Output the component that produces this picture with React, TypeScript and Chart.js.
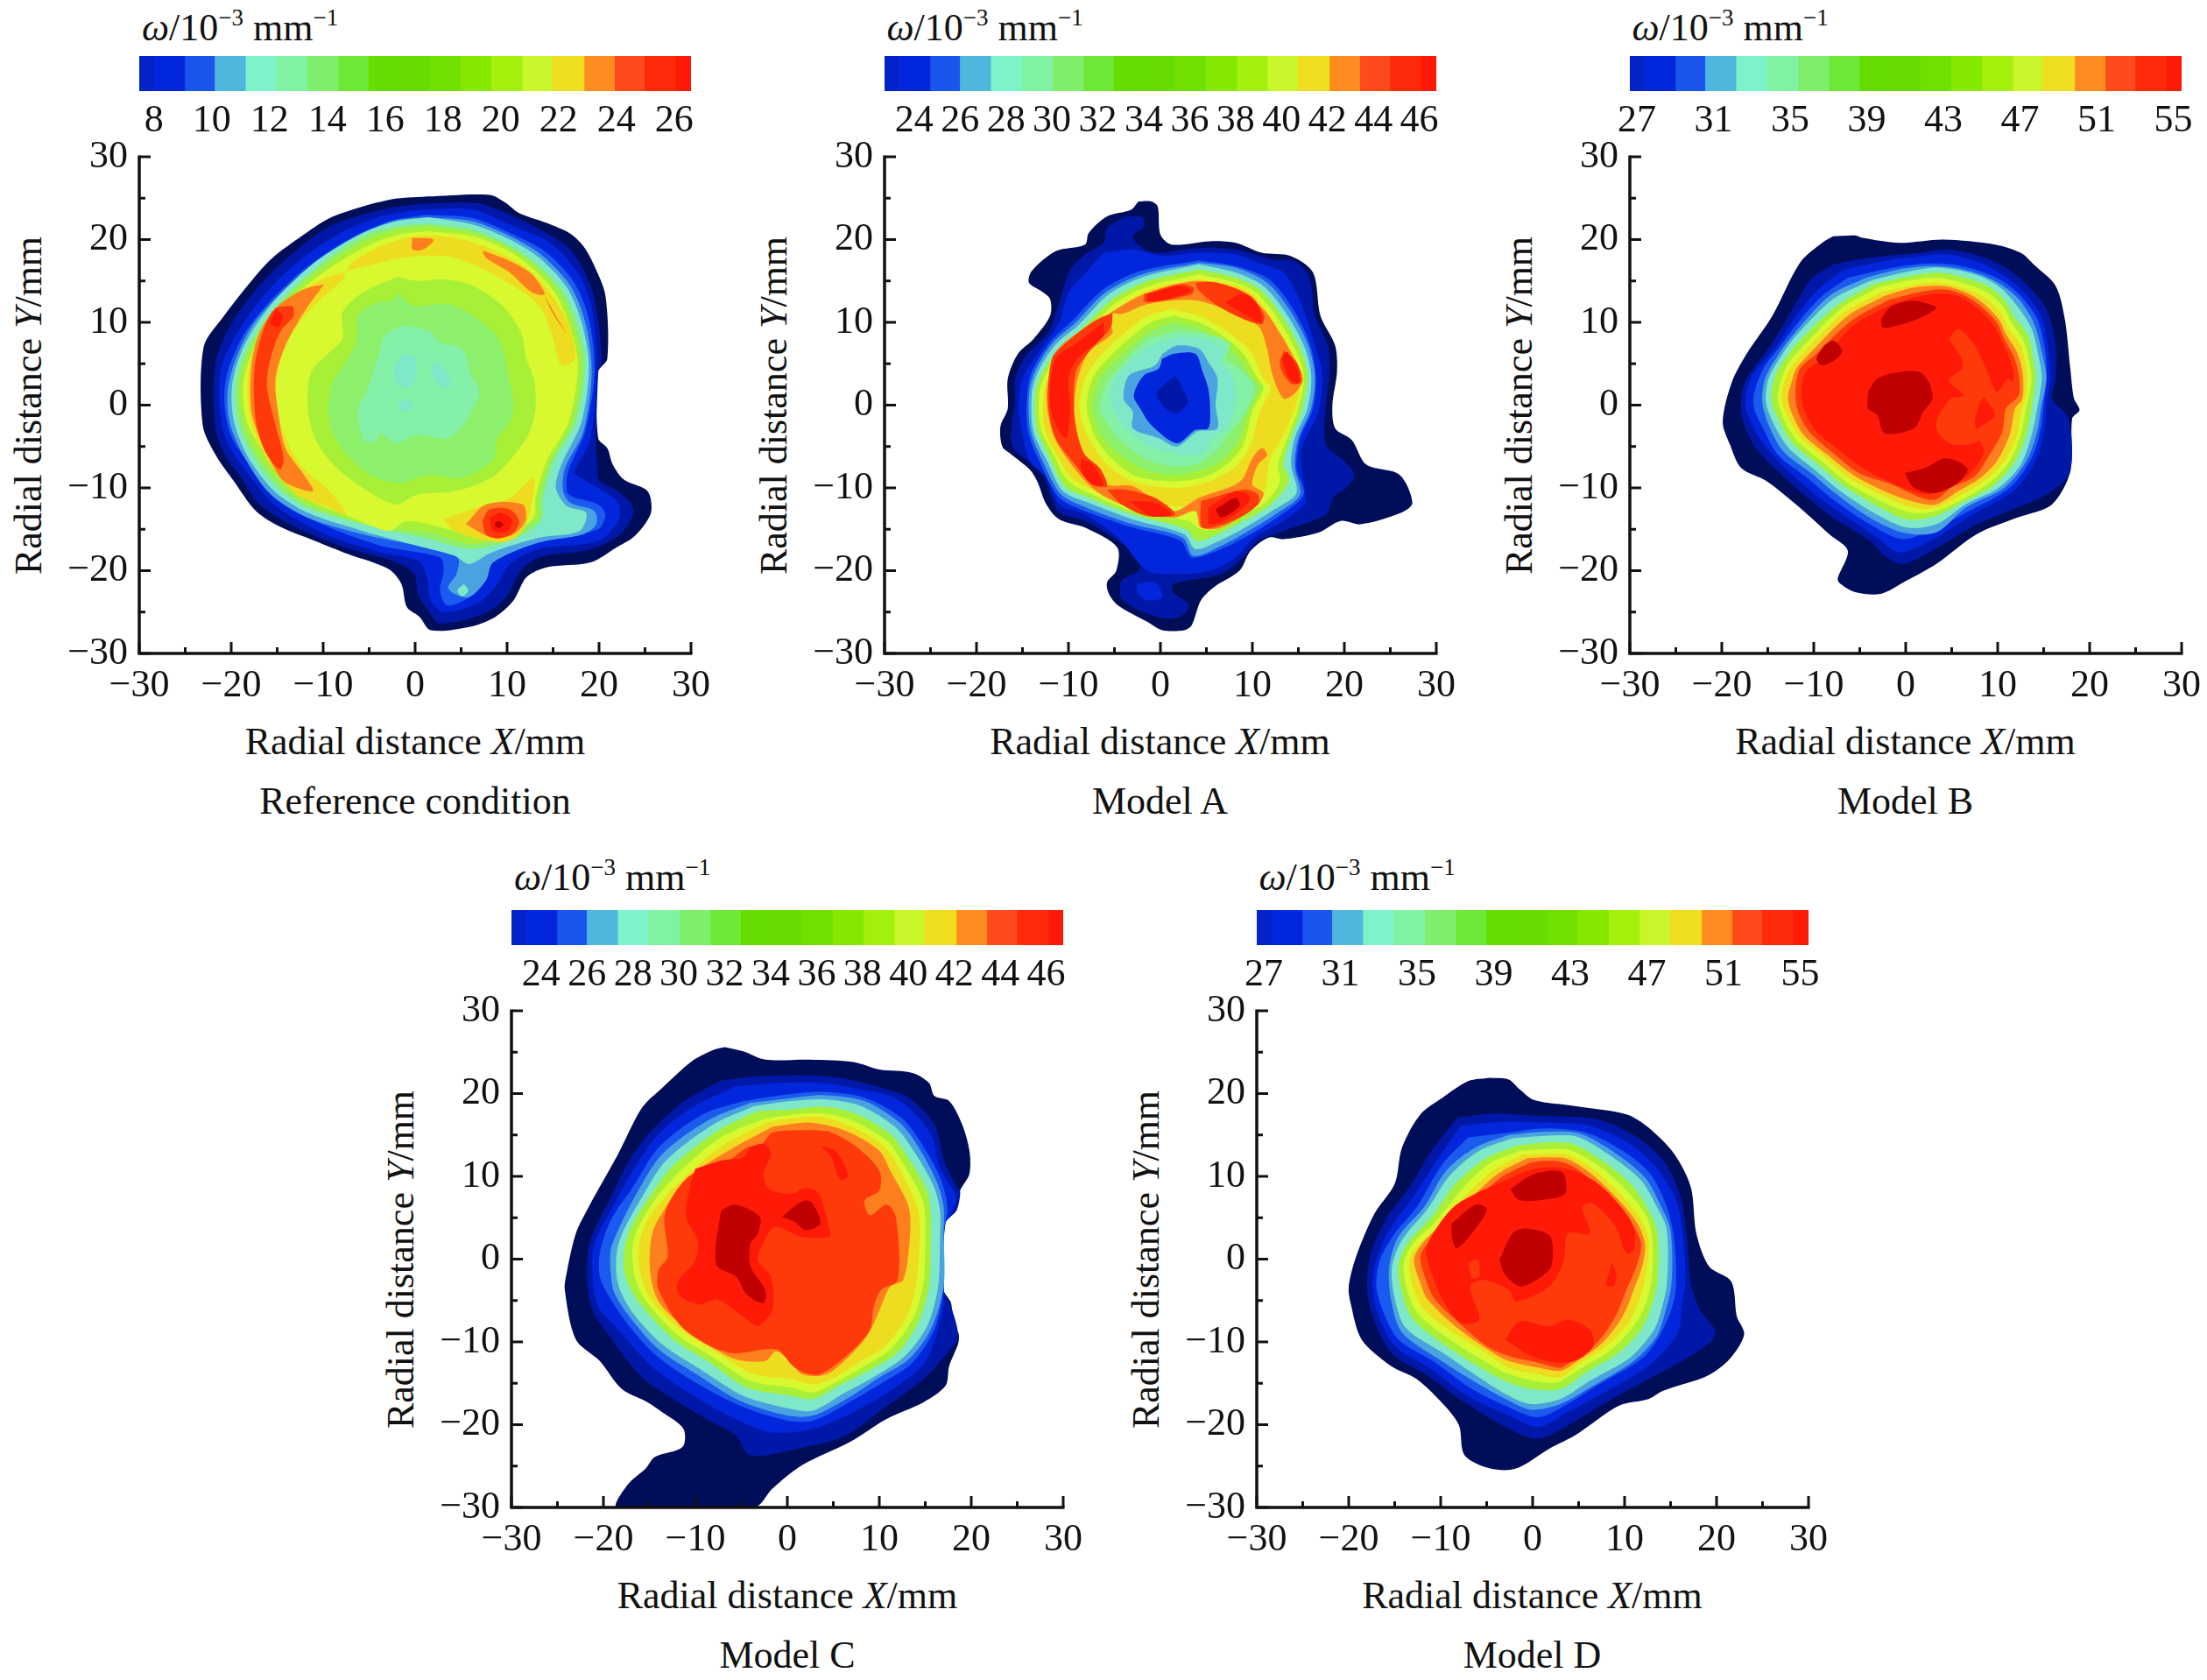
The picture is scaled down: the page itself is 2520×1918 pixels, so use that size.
import React, { useEffect, useRef } from 'react';
import { Chart, registerables } from 'chart.js';

Chart.register(...registerables);

const SERIF = '"Liberation Serif", "Times New Roman", serif';

// contour fill colours, one per level index, low to high
const levelColors = [
  '#000d58', '#0018a8', '#0226dc', '#1a5aee', '#4aa3e0', '#7ee8c8', '#85f0a8', '#8cf06c',
  '#a8f038', '#d8f830', '#eedc20', '#fe7f1e', '#ff3a0a', '#ff1a08', '#c00000',
];

const barColors = [
  '#0322c8', '#0226dc', '#1a56ee', '#4fb6de', '#7ef2cb', '#80f3a3', '#7fee6a', '#6ee836', '#66dd00', '#66dc00',
  '#6fe000', '#86e800', '#a3f00c', '#c8f62a', '#efde20', '#ff8c20', '#ff4a1c', '#ff2a0a', '#ff1a08',
];

const barEdgesA = [7.49, 8.0, 9.06, 10.09, 11.16, 12.21, 13.3, 14.37, 15.41, 16.47, 17.52, 18.59, 19.66, 20.74, 21.78, 22.88, 23.93, 24.97, 26.04, 26.58];
const barEdgesB = [22.71, 23.34, 24.69, 25.98, 27.33, 28.66, 30.03, 31.37, 32.68, 34.01, 35.34, 36.69, 38.04, 39.38, 40.69, 42.08, 43.41, 44.72, 46.07, 46.74];
const barEdgesC = [26.63, 27.39, 29.01, 30.55, 32.17, 33.76, 35.4, 37.02, 38.59, 40.18, 41.77, 43.39, 45.0, 46.62, 48.19, 49.85, 51.45, 53.01, 54.63, 55.44];

const barTicksA = [8, 10, 12, 14, 16, 18, 20, 22, 24, 26];
const barTicksB = [24, 26, 28, 30, 32, 34, 36, 38, 40, 42, 44, 46];
const barTicksC = [27, 31, 35, 39, 43, 47, 51, 55];

type Contour = [number, number[]];

const referenceContours: Contour[] = [
  [0, [1.3,25.2, 8.1,25.4, 9.9,24.4, 11.3,23.2, 14.3,22, 16.9,20.7, 18.3,19.2, 19.5,16.8, 20.7,13.2, 20.9,5.6, 19.9,4, 19.9,-4, 20.9,-5.2, 21.5,-7.2, 22.7,-9, 25.1,-10.2, 25.6,-11.2, 25.6,-13.2, 23.9,-15.8, 21.9,-17.2, 19.1,-19, 14.3,-19.6, 12.1,-20.8, 10.7,-23.6, 8.7,-25.6, 5.9,-26.8, 1.7,-27.2, .5,-25.6, -.9,-24.4, -1.5,-21.6, -2.9,-19.8, -7.3,-18, -10.9,-16.4, -14.5,-14.8, -17.3,-12.8, -19.7,-9.2, -21.7,-6, -23.1,-2.4, -23,7, -20.9,10.6, -18.1,14.6, -15.7,17.6, -12.1,20.6, -8.9,22.8, -2.9,24.8]],
  [1, [.3,24.3, 6.7,24.4, 10.3,23, 14.3,20.8, 16.9,18.8, 19.1,14.4, 19.9,10.4, 20.3,5.2, 19.9,4, 19.9,-8.8, 21.5,-10, 23.3,-11.6, 23.7,-13.2, 22.3,-15.6, 19.1,-17.4, 13.5,-18.4, 11.5,-20, 9.9,-23.2, 7.5,-25.2, 2.7,-26.4, 1.5,-25, .3,-22.8, -.1,-20.4, -2.5,-18.8, -7.7,-17.2, -12.9,-14.8, -16.9,-12, -18.9,-8.8, -20.9,-5.6, -21.8,-2, -21.7,5.2, -20.1,9.6, -17.3,14, -13.7,18, -9.3,21.6, -3.7,23.6]],
  [2, [.3,23.6, 6.3,23.6, 10.7,21.6, 14.7,19.6, 17.9,15.6, 19.3,11.2, 19.7,4, 19.1,-4, 17.7,-7.2, 17.3,-8.2, 19.9,-10, 22.1,-11.8, 22.1,-14, 19.9,-16.4, 13.5,-17.4, 10.3,-19.2, 8.7,-22, 6.7,-24, 3.1,-25, 1.7,-23.6, 1.3,-20.8, .3,-18.8, -3.7,-17.8, -9.3,-15.8, -14.9,-12.4, -18.1,-8.4, -20.3,-4.8, -21.2,-1.2, -21.1,4.4, -19.3,8.8, -16.5,13.2, -12.9,17.2, -8.1,20.8, -3.7,22.8]],
  [3, [1.1,23, 6.3,22.6, 10.7,20.6, 14.3,18.4, 17.3,14.8, 18.9,10.4, 19.5,4, 18.5,-3.2, 16.9,-7.2, 16.5,-8.8, 16.7,-10.8, 19.9,-12, 20.7,-13.2, 19.9,-15, 13.5,-16.4, 8.7,-18.2, 7.5,-21.2, 5.9,-23.2, 3.5,-24.2, 2.7,-22.4, 3.1,-20, 2.7,-18.4, -3.7,-17, -9.3,-14.8, -14.5,-11.8, -17.7,-7.6, -19.9,-4, -20.7,-.4, -20.5,3.6, -18.7,8.4, -15.9,12.4, -12.1,16.4, -7.3,20, -2.9,22.2]],
  [4, [1.1,22.7, 6.3,22.2, 10.7,20.2, 13.9,18, 16.9,14.4, 18.5,10, 19.2,4, 18.3,-3.2, 16.3,-7.6, 16.1,-10.4, 16.9,-11.8, 19.5,-12.8, 19.7,-14.4, 18.3,-15.6, 13.5,-16.6, 8.5,-19, 7.7,-21.2, 5.9,-23.2, 4.3,-22.8, 3.6,-22, 4.5,-20.4, 4.6,-18.4, .3,-17, -5.7,-15.6, -11.7,-13.6, -15.7,-10.8, -18.3,-6.8, -20.1,-2.4, -20.4,1.6, -19.5,5.6, -17.7,9.6, -14.9,13.2, -10.9,17.2, -6.1,20.4, -2.5,22.2]],
  [5, [1.5,22.7, 6.3,21.8, 10.3,20, 13.5,17.8, 16.5,14.2, 18.1,10, 18.9,4.8, 18.1,-2, 15.9,-7.2, 15.3,-10, 16.5,-12.2, 18.6,-13, 17.9,-15.2, 13.5,-16, 8.3,-17.8, 5.9,-19.2, 4.3,-18.2, .3,-17, -5.7,-15.2, -11.7,-13, -15.3,-10.4, -18.1,-6.4, -19.7,-2, -19.9,2.4, -18.9,6.4, -17.1,10, -14.5,13.6, -10.5,17.6, -5.7,20.8, -2.1,22.2]],
  [5, [5.3,-21.6, 5.8,-22.4, 5.1,-23.1, 4.6,-22.4]],
  [7, [1.5,21.9, 6.3,21.2, 9.9,19.5, 13.1,17.2, 16.1,13.8, 17.7,9.6, 18.5,4.8, 17.5,-2, 15.1,-6.8, 13.9,-11.2, 13.7,-14, 10.7,-16.2, 6.3,-17.4, 1.5,-16.2, -5.7,-14.4, -11.7,-12.4, -14.9,-10, -17.7,-6, -19.2,-2, -19.5,2.4, -18.5,6.4, -16.5,10, -13.9,13.4, -10.1,17.2, -5.7,20.4, -2.1,21.6]],
  [8, [1.5,21.6, 6.3,20.8, 9.9,19.2, 12.9,17, 15.7,13.6, 17.3,9.4, 18.1,4.8, 17.1,-2, 14.7,-6.8, 13.5,-11.2, 13.3,-13.6, 10.3,-15.6, 6.3,-16.8, 1.5,-15.4, -3.7,-14.8, -11.7,-12, -14.5,-9.6, -17.3,-5.6, -18.7,-2, -19.1,2.4, -18.1,6.4, -16.1,10, -13.5,13.4, -9.9,16.8, -5.3,20, -1.9,21.2]],
  [9, [1.5,21, 6.3,20.4, 9.9,18.8, 12.7,16.6, 15.3,13.4, 16.9,9.2, 17.7,4.8, 16.7,-2, 14.3,-6.8, 13.1,-11.2, 12.9,-13.6, 10.3,-15.4, 7.7,-16.2, 4.3,-15.2, -.9,-14, -2.9,-15.2, -7.7,-13.2, -11.7,-11.4, -14.1,-9.2, -16.7,-5.2, -18.3,-2, -18.7,2.4, -17.7,6.4, -15.7,10, -13.1,13.2, -9.5,16.4, -4.9,19.4, -1.7,20.6]],
  [10, [-7.5,16.2, -6.9,17.2, -3.7,19.2, -.1,20.4, 4.3,20.2, 8.3,18.8, 12.3,16.4, 14.9,13.2, 16.7,9.6, 17.4,5.6, 15.9,4.8, 14.9,8.4, 13.5,12, 10.7,14.4, 7.1,16.6, 3.5,18, -1.3,17.8, -4.5,17]],
  [10, [-7.7,16, -10.1,15.2, -13.7,12.4, -16.3,8.8, -17.9,5.2, -18.2,.8, -17.5,-3.2, -15.7,-7.2, -12.9,-10.8, -9.7,-12.2, -7.5,-13.2, -9.3,-10.4, -12.5,-7.2, -14.5,-2.8, -15.1,2, -14.1,7.2, -11.7,11.2, -7.7,15.4]],
  [10, [3.1,-13.8, 6.7,-12.4, 10.3,-11.2, 12.9,-8.8, 12.7,-11.6, 11.9,-14.8, 10.3,-16.4, 7.9,-16.4, 4.3,-15.2]],
  [11, [-9.9,14.6, -12.1,14, -14.9,12, -16.9,8.8, -17.8,4.8, -17.8,-.8, -16.7,-4.4, -14.9,-8.4, -13.7,-9.6, -11.1,-10.4, -12.1,-8.4, -14.1,-5.2, -14.9,-.8, -15.2,3.2, -14.1,7.2, -12.1,11.2]],
  [11, [-.3,20.2, 2,20, .9,18.8, -.3,18.8]],
  [11, [7.3,18.7, 10.3,17.4, 12.7,15.8, 14.1,13.4, 12.7,13.6, 10.3,16, 7.7,17.8]],
  [11, [14.1,13.2, 14.9,11.2, 16.5,8.6, 15.3,10.8]],
  [11, [5.5,-14.4, 7.7,-12, 11.7,-12, 12,-14, 10.7,-15.6, 8.3,-16]],
  [12, [-13.3,12, -15.3,11.6, -16.7,8.4, -17.5,4, -17.3,-2, -16.3,-5.6, -14.7,-7.8, -14.3,-6.4, -15.1,-2.8, -16.1,2, -15.9,4.8, -14.7,8.8, -13.2,10.8]],
  [12, [7.3,-14, 8.1,-12.6, 10.3,-12.6, 11.3,-14, 10.7,-15.4, 9.1,-16.1, 7.7,-15.6]],
  [13, [-15.1,11.6, -14.4,10.8, -14.9,9.4, -15.7,10]],
  [13, [8.1,-13.6, 9.3,-13, 10.5,-13.8, 10.1,-15.2, 8.5,-15.2]],
  [14, [8.6,-14.4, 9.1,-14, 9.6,-14.4, 9.1,-14.9]],
  [8, [-1.9,15.5, .3,15, 3.1,15.2, 6.3,14.4, 9.5,12, 11.5,8.8, 12.1,5.6, 12.9,3.2, 13.1,-.4, 12.3,-3.6, 9.9,-7.2, 8.3,-8.8, 4.3,-10.4, .3,-10.8, -2.1,-12, -5.7,-10, -8.9,-7.2, -10.9,-4, -11.7,0, -11.3,4, -9.3,6.4, -7.9,8, -7.9,11.2, -5.7,13.6]],
  [7, [-1.9,13.6, -.1,12, 3.5,12.2, 6.3,10.8, 9.1,8, 10.1,4, 10.7,0, 10.3,-2, 8.9,-4, 8.5,-6.6, 5.1,-8.8, 1.5,-8.4, -1.7,-9.4, -4.9,-8.4, -7.7,-5.6, -9.3,-2, -9.1,2.4, -7.3,5.6, -6.3,8, -6.3,10.8, -4.1,12.4, -2.5,12.6]],
  [6, [-1.5,9.6, 1.5,9, 2.7,7.6, 5.1,6.8, 6.1,3.6, 7,1.6, 6.1,-.8, 5.5,-2, 3.5,-4, .3,-3.6, -2.1,-4.6, -3.7,-3.4, -4.5,-4.6, -5.7,-4, -6.2,-.4, -5.3,1.6, -3.9,6.4, -3.3,8.4]],
  [5, [-1.3,6.2, .1,5.6, -.3,2.4, -1.9,2.4, -2.3,4.6]],
  [5, [2.3,5.4, 3.5,4, 3.9,2.4, 2.7,2.2, 1.7,4.2]],
  [5, [-1.7,.8, -.5,.4, -.5,-.6, -1.7,-.6]],
];

const modelAContours: Contour[] = [
  [0, [-2.4,24.6, -1,24.6, -.3,24, 0,20.6, 1.2,19.4, 5.4,19.8, 8.2,19.6, 11,18.4, 14.2,18, 16.6,16, 17.4,10.8, 19,7.2, 19.2,4, 18.7,0, 19,-2.8, 20.8,-4.2, 22.4,-7.2, 26,-8.4, 27.4,-11.8, 26.2,-13, 21.8,-14.4, 19.6,-14, 17.2,-15.4, 13.4,-16.2, 11.8,-16, 9.8,-17.6, 8.6,-20, 5.8,-22, 4.4,-23.6, 3.4,-26.6, 2.6,-27.2, .2,-27.2, -1.4,-26.2, -4.6,-24.2, -5.6,-22.8, -5.8,-21.4, -4.8,-20, -4.7,-17.2, -8.2,-14.8, -11,-13.8, -12.4,-12, -13.4,-9.2, -14.2,-7.8, -16.4,-5.8, -17.2,-5, -17.4,-2.6, -16.6,-.4, -16.6,3.2, -15.5,6.2, -13.8,8, -12,10.8, -12,12.8, -13,13.8, -14.3,14.8, -14,16.2, -11.4,18.6, -8.2,19.4, -7.8,20.8, -5.8,22.8, -3.2,23.6]],
  [1, [-3.8,22.8, -2,22.7, -1.8,21.6, -3,20.4, -2.2,19.2, -.6,18.4, 4.2,19, 8.2,18.8, 12.2,17.6, 14.6,17.4, 16.2,15.4, 16.8,10.8, 18.2,7.2, 18.4,4, 18,0, 18,-4.8, 19.8,-6.6, 21.1,-8.4, 20.2,-10, 18.8,-11.2, 18,-13.2, 13.4,-15.2, 10.6,-16.4, 9,-18.4, 6.6,-20.4, 1.4,-21.6, 1.4,-22.6, 3,-24, 2.8,-25, 1.4,-25.8, -1.4,-25.2, -4.2,-23.4, -4.2,-21.2, -2.4,-20, -2.4,-18.4, -4.6,-16.4, -8.2,-14, -11,-13, -11.8,-11.2, -13,-8, -16,-5.2, -16.2,-2.4, -15.8,.4, -15.8,3.2, -14.6,6, -12.2,8.8, -11,12.4, -9.8,16.4, -8.2,18.2, -6.2,19.6, -5.8,21.4]],
  [2, [-6.2,18.4, -3,18.8, .2,18, 4.2,18.4, 8.2,18.2, 10.6,17.2, 13.4,16, 15.4,12, 16.8,7.2, 17.6,4, 17.2,-.8, 15.8,-4, 15.2,-6, 15.8,-10.8, 15.8,-11.8, 13.4,-14, 10.2,-16, 8.2,-18.4, 5.4,-20, 2.2,-20.4, -1.4,-20, -4.6,-16, -8.2,-13.2, -11,-12, -12.4,-8.8, -14.2,-6.8, -15,-3.6, -15.4,-.4, -15,3.2, -13,6.8, -11,10, -10,13.6, -7.8,16.4]],
  [2, [-2.6,-21.6, -.6,-21.4, .2,-23.2, -1.4,-23.6, -2.4,-22.8]],
  [3, [4.2,17.5, 8.2,16.8, 11.8,15.2, 14.2,12, 16.2,7.6, 16.9,3.6, 16.6,-.4, 15.2,-4, 14.8,-7.6, 15.6,-10.8, 13.2,-13.2, 9.8,-15.6, 6.6,-17.4, 3.4,-18.4, 2.2,-16.4, -3,-14.8, -8.2,-12.8, -11,-11.2, -13,-7.2, -14.4,-3.2, -14.5,1.2, -14,4, -12,7.6, -9.4,10.4, -6.2,14, -2.2,16.2]],
  [4, [4.2,17.2, 8.2,16.6, 11.6,14.8, 14,11.6, 16,7.4, 16.8,3.6, 16.4,-.4, 15,-4, 14.6,-7.4, 15.2,-10.8, 12.8,-13, 9.6,-15.2, 6.6,-17, 3.6,-18.2, 2.4,-16, -3,-14.4, -8,-12.4, -10.8,-10.8, -12.7,-7, -14.1,-3.2, -14.3,1.2, -13.7,3.9, -11.8,7.4, -9.2,10, -6,13.6, -2,15.8]],
  [5, [4.2,17, 8.2,16, 11.2,14.4, 13.6,11.2, 15.6,7.2, 16.4,3.6, 16,-.4, 14.6,-4, 14.2,-7.2, 14.8,-10.6, 12.4,-12.6, 9.2,-14.8, 6.4,-16.4, 3.8,-17.4, 2.6,-15.6, -3,-13.8, -7.8,-11.8, -10.6,-10.4, -12.3,-6.8, -13.8,-3.2, -14,1.2, -13.4,3.8, -11.5,7.2, -8.8,9.8, -5.6,13.4, -1.8,15.5]],
  [8, [4.2,16.4, 8.2,15.4, 10.8,14, 13.2,10.8, 15.2,6.8, 16,3.6, 15.4,-.4, 14.2,-4, 13.4,-7.2, 14,-9.2, 11.8,-12.2, 9,-14, 6.2,-15.6, 4,-16.4, 2.8,-15, -3,-13.2, -7.8,-11.2, -10.4,-9.8, -12,-6.4, -13.4,-3, -13.6,1.2, -13,3.6, -11.1,6.8, -8.4,9.4, -5.2,12.8, -1.4,15]],
  [9, [4.2,15.8, 8.2,14.8, 10.4,13.6, 12.8,10.4, 14.8,6.4, 15.6,3.4, 15,-.4, 13.8,-4, 12.8,-7.2, 13,-9.2, 11.4,-11.8, 8.6,-13.4, 6.2,-15, 4.4,-15, 3,-14, -3,-12.8, -7.4,-10.8, -10,-9.2, -11.6,-6, -13,-2.8, -13.2,1.2, -12.6,3.4, -10.8,6.4, -8,9, -4.8,12.4, -1.2,14.4]],
  [10, [4.2,15.2, 8.2,14.4, 10.2,13.2, 12.4,10, 14.4,6, 15.2,3.2, 14.6,-.4, 13.2,-4, 11.8,-6.8, 11.6,-8.8, 11,-11.2, 8.2,-12.8, 6,-14.6, 4.4,-14.8, 3.8,-12.8, 1.4,-12.2, -3,-12.4, -7,-10.4, -9.6,-8.8, -11.3,-6, -12.6,-2.8, -12.7,1.2, -12.2,3.2, -10.4,6, -7.6,8.6, -4.4,11.9, -1,14]],
  [11, [-5.4,11.2, -1.8,13.4, 3.8,15, 8.2,14, 11.2,11.6, 12.6,9.4, 14.2,6.4, 15.5,3.2, 14.6,1.4, 13.4,.8, 12.2,3.6, 11.6,6.8, 10.6,9.6, 7,11.6, 3.4,12.7, -1.4,12.2, -4.2,11]],
  [11, [-6.2,10.8, -8.2,9.4, -11.4,6.4, -12.3,2.4, -12.3,-.4, -11.5,-4, -9.4,-7.6, -7,-10.4, -3.8,-12.2, 1.4,-13.6, 3.8,-12.8, 4.4,-14.8, 6.6,-14.8, 10.6,-12, 11.2,-10.6, 10,-9.6, 10.6,-7.2, 11.6,-6, 11,-5.2, 10,-6.4, 9,-8.8, 7.8,-9.8, 4.2,-11.2, 1.4,-12.8, -3,-9.8, -5.8,-9.6, -7.8,-7.2, -9.4,-4, -9.4,-.4, -9,3.2, -7.8,6.4, -5.2,8.8]],
  [12, [-5.2,11.2, -7.4,10, -10.6,7.2, -11.8,5.6, -12.2,0, -11.4,-4, -9,-7.6, -7.4,-9.6, -5.8,-9.8, -6.6,-7.6, -8.2,-6, -9,-3.6, -9.4,-.4, -9.2,4, -7.8,6.4, -5.4,9.4]],
  [12, [-5.8,-10.2, -3.8,-10.2, -.6,-11.2, 1.6,-13.2, -1.4,-13.4, -4.2,-12]],
  [12, [-1.8,13.4, 2.2,14.6, 3.6,14.2, 3.4,13.4, -1.6,12.4]],
  [12, [3.8,14.8, 6.2,14.8, 9.8,13.2, 11.3,10.8, 11,9.8, 9,10.4, 6.2,12, 4.2,13.8]],
  [12, [13.4,6.6, 14.8,5.2, 15.3,2.8, 14.2,2.6, 13,4.8]],
  [12, [4.4,-11.6, 9,-10.2, 10.6,-10.8, 10.6,-12, 8.2,-13.8, 4.6,-14.8]],
  [13, [-6.2,10, -9,7.6, -11.4,5.6, -12,0, -11,-3.2, -10.2,-4, -9.8,0, -10,3.2, -9,5.6, -6.2,8.4]],
  [13, [-8.6,-6.4, -7.4,-7.2, -6.2,-9.6, -7.4,-9.6, -8.6,-8]],
  [13, [7,12.4, 9,13.4, 10.6,12, 11,10, 9.4,10.8]],
  [13, [-1.4,13.4, 2.2,14.4, 3.4,13.8, .2,12.7, -1.4,12.6]],
  [13, [13.2,5.6, 13.8,6.4, 15,4, 15,2.6, 14,3.2]],
  [13, [-3.4,-11.6, -.6,-11.8, 1.2,-13.2, -1,-13.4]],
  [13, [5.2,-12.4, 8.2,-10.4, 9.8,-11.2, 8.2,-13.2, 5.4,-14.4]],
  [14, [6,-12.6, 8.2,-11.2, 8.6,-12.2, 6.6,-13.6]],
  [9, [1.2,11.6, 4.2,10.8, 7.4,8.8, 9.8,6.4, 11.2,3.2, 12,2, 10.8,-.8, 9.8,-4.8, 8.4,-7.2, 5.4,-9.2, 1.4,-10, -3,-9.2, -5.8,-7.2, -7.8,-4, -8.8,-.4, -8.2,3.2, -6.2,6.4, -3.8,8.8, -1.4,10.8]],
  [8, [1.4,10.8, 4.2,10, 7,8.2, 9,6.2, 10.6,3.2, 11.2,2, 10,-.8, 9,-4.8, 7.6,-6.8, 5,-8.6, 1.4,-9.2, -2.6,-8.6, -5.2,-6.6, -7,-4, -8,-.4, -7.4,3.2, -5.4,6, -3,8.4, -1,10]],
  [7, [1.4,10, 4.2,9.2, 6.6,7.6, 8.6,5.6, 10,3.2, 10.8,2.2, 9.6,-.8, 8.4,-4.4, 7,-6.4, 4.6,-7.8, 1.4,-8.4, -1.8,-7.8, -4.6,-5.8, -6.4,-3.6, -7.4,-.4, -6.6,3.2, -5,5.2, -2.6,7.6, -.6,9.2]],
  [6, [1.8,9, 5,8.6, 7.6,7.4, 7.2,5.6, 9,4, 10.2,2, 9,-1.2, 7.4,-3.6, 6.2,-5.4, 4.2,-7, 1.4,-7.4, -1.4,-6.6, -3.8,-4.8, -5.4,-2.8, -6.6,-.4, -5.8,2.8, -4.2,4.8, -1.8,7.6]],
  [5, [1.8,8.2, 5,8, 7,6.8, 6.6,5.2, 7.8,3.6, 8.2,.8, 7.4,-2.4, 5.8,-4, 4.2,-6, 1.4,-5.8, -1,-5, -3,-3.6, -4.6,-1.6, -5.4,.4, -5.2,2.8, -3,5.6, -1,7.2]],
  [4, [.2,6.2, 1.8,7.2, 4.2,6.8, 5.2,5.2, 6.2,3.2, 6,0, 6.2,-2.8, 4,-3.2, 1.8,-5, -.2,-4, -3,-2.8, -3,-.8, -4,.8, -3.4,3.6, -.6,4.8]],
  [2, [.2,5.6, 1.4,6.2, 3.8,6.2, 4.6,4, 5.2,2, 5.4,-.4, 5.2,-2.8, 3.8,-3, 1.8,-4.6, -1,-2.4, -2.2,-.4, -2.9,1.2, -1.8,3.6, -.2,4.4]],
  [1, [1.6,3.6, 2.6,1.6, 3,.4, 1.8,-1, .6,-.4, -.4,1.4]],
];

const modelBContours: Contour[] = [
  [0, [-7.9,20.4, -5.5,20.5, -4.7,20.2, -.7,19.6, 4.1,20, 9.7,19.4, 12.5,18.4, 13.9,17, 16.3,14.4, 17.3,10.4, 17.9,4.4, 18.3,.8, 18.9,-.6, 18.1,-1.6, 17.9,-8, 15.9,-12, 12.1,-13.6, 7.7,-15.6, 3.3,-19.2, .1,-21.2, -2.7,-22.8, -5.5,-22.6, -7.1,-21.6, -7.4,-21, -6.3,-17.6, -8.3,-15.6, -11.5,-12.4, -15.1,-9.2, -17.9,-7.6, -19.1,-4.8, -19.9,-2, -18.9,2.8, -17.3,6.2, -14.5,10.8, -11.5,17.2, -9.1,19.6]],
  [1, [-7.9,17, -3.9,17.8, 1.7,18.4, 4.5,18.8, 8.1,18, 10.9,16.6, 13.3,14.4, 15.3,11.6, 16.3,7.2, 16.3,3.2, 15.9,.8, 17.7,-1.6, 17.9,-8, 15.9,-10.4, 12.1,-12.4, 7.7,-14.4, 4.1,-16.8, -.3,-19.2, -2.3,-18.2, -3.9,-16.4, -7.9,-13.6, -10.7,-11.2, -13.9,-8, -16.3,-5.2, -17.7,-2, -17.9,.8, -17.3,3.2, -14.7,7.2, -12.3,11.6, -10.3,15.2]],
  [2, [-6.7,16.4, -1.5,17.6, 1.7,18, 4.5,18.2, 8.1,17.2, 10.5,15.8, 12.7,13.8, 14.7,10.8, 15.5,6.8, 15.7,3.2, 15.3,0, 15.1,-2.8, 14.1,-6.8, 11.7,-10.4, 7.3,-13.2, 3.3,-16, -.7,-17.8, -3.1,-16, -7.9,-12.4, -10.3,-10.4, -13.5,-7.2, -15.9,-4, -17.3,-.8, -17.4,1.2, -16.7,3.6, -14.3,6.8, -11.9,10.8, -9.5,14]],
  [3, [-6.3,15.4, -1.5,16.6, 2.1,17.1, 4.9,17, 8.1,16.2, 10.5,15, 12.5,13.2, 14.3,10.4, 15.2,6.4, 15.3,3.2, 15,0, 14.7,-2.8, 13.7,-6.4, 11.3,-10, 6.9,-12.8, 3.3,-14.8, -.3,-16.2, -3.9,-14.4, -7.9,-11.4, -10.7,-8.8, -13.9,-6, -15.5,-2.8, -16.5,-.4, -16.5,1.4, -15.5,4.4, -13.9,6.8, -11.1,10.8, -9.1,13.2]],
  [4, [-4.3,15.4, -.7,16.4, 2.5,16.8, 5.3,16.6, 8.1,15.8, 10.3,14.6, 12.3,12.8, 13.9,10, 14.9,6, 15.3,3.2, 14.7,-.4, 14.3,-3.2, 13.1,-6.8, 10.7,-10, 6.5,-12.4, 3.3,-15.4, -.3,-15.4, -3.9,-13.6, -7.5,-10.8, -10.3,-8.2, -13.3,-5.6, -14.9,-2.4, -15.6,.4, -15.3,3.2, -13.9,6, -12.3,8.4, -8.3,13.2]],
  [5, [-3.9,15, -.3,16, 2.9,16.6, 5.7,16.3, 8.5,15.4, 10.5,14, 12.1,12, 13.7,9.2, 14.5,5.6, 14.8,3.2, 14.3,-.4, 13.7,-3.6, 12.5,-7.2, 10.1,-10, 6.5,-12, 3.3,-14.4, .1,-14.8, -3.5,-13, -7.1,-10.4, -9.9,-7.8, -12.7,-5.2, -14.3,-2.4, -15.2,.4, -14.9,3.2, -13.5,6, -11.9,8.4, -7.9,12.8]],
  [8, [-3.5,14.6, .1,15.5, 3.3,16, 6.1,15.5, 8.9,14.4, 10.7,12.8, 11.7,10.8, 13.3,8.4, 13.9,5.2, 14.1,3.2, 13.7,-.4, 13.1,-3.6, 11.9,-6.8, 9.7,-9.6, 6.5,-11.6, 3.3,-13.4, .1,-13.8, -3.1,-12.2, -6.7,-9.8, -9.5,-7.2, -12.3,-4.6, -13.7,-2, -14.6,.4, -14.3,3.2, -13.1,5.6, -11.5,7.8, -7.5,12]],
  [9, [-3.1,14.2, .1,15, 3.3,15.4, 6.1,14.8, 8.9,13.6, 10.5,12, 11.5,10, 12.9,7.6, 13.5,4.8, 13.7,3.2, 13.1,-.4, 12.5,-3.6, 11.3,-6.8, 9.3,-9.2, 6.5,-11.2, 3.3,-12.8, .5,-13, -2.7,-11.6, -6.3,-9.4, -9.1,-6.8, -11.9,-4.2, -13.3,-1.6, -13.9,.8, -13.5,3.2, -12.7,5.2, -11.1,7.2, -7.1,11.6]],
  [10, [-2.7,13.6, .5,14.4, 3.3,14.8, 6.1,14.2, 8.5,13, 10.3,11.2, 11.1,9.4, 12.5,7.2, 13.1,4.4, 13.1,1.2, 12.5,-.8, 12.1,-3.6, 10.7,-6.8, 8.7,-9, 6.1,-10.8, 3.3,-12.4, .9,-12.4, -2.3,-11, -5.9,-9, -8.7,-6.4, -11.5,-3.8, -12.9,-1.2, -13.5,.8, -13.1,3.2, -12.3,4.8, -10.7,6.8, -6.7,11.2]],
  [11, [-2.3,13.2, .9,14.2, 4.1,14.4, 6.1,13.8, 8.1,12.6, 10.1,10.4, 10.9,8.6, 12.1,6.4, 12.7,4, 12.7,.8, 11.9,-.4, 11.3,-3.6, 9.9,-6.8, 8.1,-8.8, 5.7,-10.4, 3.3,-12, 1.3,-11.8, -1.9,-10.6, -5.5,-8.6, -8.3,-6.2, -11.1,-3.6, -12.3,-1.2, -12.8,.8, -12.3,3.2, -11.9,4.4, -10.3,6.4, -6.3,10.8]],
  [12, [-1.9,12.7, 1.3,13.6, 4.1,14, 6.1,13.4, 8.1,12, 9.9,10, 10.7,8, 11.7,6, 12.3,3.6, 12.3,1.2, 10.9,-.4, 10.5,-3.2, 8.9,-6.4, 7.5,-8.6, 4.9,-10, 3.3,-11.4, 1.7,-11.2, -1.5,-9.6, -5.1,-8.2, -7.9,-5.8, -10.5,-3.2, -11.7,-.8, -12,1.6, -11.5,4.4, -9.7,6.2, -5.9,10.2]],
  [13, [-1.5,12.2, 1.7,13.2, 4.1,13.5, 6.1,13, 8.1,11.4, 9.7,9.4, 10.5,7.6, 11.3,5.6, 11.7,3.2, 10.1,1.6, 8.5,1.2, 9.7,-1.2, 7.7,-3.2, 8.5,-5.6, 6.9,-8.4, 4.9,-9.6, 2.5,-10.8, -1.1,-9.6, -4.7,-7.6, -7.5,-5.2, -9.7,-3.2, -11.1,-.4, -11.3,2, -10.9,4, -9.1,5.6, -5.5,9.8]],
  [12, [4.7,8, 5.7,9.2, 7.5,7.2, 8.9,4, 9.9,1.6, 11.2,3.2, 11.7,1.2, 8.6,1, 7.5,-2, 8.1,-4.2, 5.3,-4.8, 3.7,-3.6, 3.3,-2, 4.9,.8, 6.3,1.2, 4.7,3, 6.1,4.4, 6.1,5.6]],
  [14, [-4.1,1.6, -3.1,3.2, -.7,4, 1.5,4, 2.5,2.8, 2.9,.8, 1.9,-.8, .9,-2.8, -2.3,-3.4, -3.1,-1.2, -4.1,-.4]],
  [14, [-2.7,10.4, -1.5,12, .9,12.6, 3.3,11.8, 2.1,10.8, -.3,9.8, -2.5,9.4]],
  [14, [-8.9,7.2, -7.9,7.8, -6.9,6.6, -7.5,5.6, -9.1,4.8, -9.7,5.6]],
  [14, [-.1,-8.2, 2.1,-7.6, 4.3,-6.4, 6.7,-7.6, 5.9,-9.2, 3.3,-10.6, .9,-10]],
];

const modelCContours: Contour[] = [
  [0, [-6.8,25.6, -4.8,25.1, -2.4,24.1, 2.4,24.1, 7.2,23.8, 10,22.9, 13.6,22.5, 15.4,21.3, 16,19.7, 17.6,19.1, 19,16.3, 19.8,13.1, 19.8,10.3, 18.8,8.3, 18.4,5.9, 17.2,4.7, 17,-3.7, 17.8,-5.3, 18.1,-8.5, 18.6,-8.9, 18.6,-10.1, 17.6,-12.9, 17.2,-15.3, 14.8,-17.3, 10.8,-19.3, 6.8,-22.1, 1.6,-24.9, -1.6,-27.7, -3.6,-30, -18.5,-30, -17.4,-27.3, -15.4,-25.3, -14.4,-23.9, -11.4,-22.7, -11.3,-20.5, -13.6,-18.5, -15.2,-17.3, -18,-15.7, -20.4,-12.3, -23,-9.7, -24.2,-3.7, -24,-1.7, -23,3.1, -21.6,6.3, -18.4,12.7, -15.8,18.3, -13.6,20.7, -10.4,23.9, -8,25.3]],
  [1, [-7.2,21.6, -3.2,22.1, 2.8,22.2, 6.8,21.7, 10.8,20.5, 13.2,19.5, 16,16.3, 17,12, 18.4,8.7, 18.8,8.1, 18.4,5.9, 17.2,4.3, 17,-3.7, 17.8,-5.7, 18.6,-9.3, 18,-10.5, 14.8,-14.5, 10.4,-18.1, 6.4,-21.3, 2,-22.7, -4,-23.7, -5.6,-21.3, -8.8,-19.3, -12.4,-16.9, -16,-14.1, -19.6,-8.9, -21.2,-6.1, -21.8,-2.1, -21.4,2.3, -19.2,7.5, -17.2,11.9, -14.8,15.5, -11.2,19.1]],
  [2, [-5.6,20.9, -.8,21.3, 3.6,21.3, 7.2,20.7, 11.2,19.7, 13.2,18.3, 15.6,15.1, 16.6,11.1, 17.8,8.7, 18.4,7.5, 17.8,5.5, 17,3.9, 17,-3.7, 17,-5.7, 15.2,-12.1, 12,-15.3, 7.2,-18.5, 2.8,-20.5, -2,-20.9, -6.4,-18.9, -10.8,-16.1, -14.8,-12.9, -18.4,-8.5, -20.6,-5.7, -21.2,-1.7, -21,1.9, -19,6.3, -16.8,10.7, -14,15.1, -10.4,18.3]],
  [3, [-4.8,19.1, 0,19.9, 4,20.2, 8.4,19.5, 12.4,17.1, 14.4,14.3, 16.6,9.9, 17.4,6.3, 17,3.1, 17,-3.3, 16,-8.5, 13.6,-12.5, 10.4,-14.9, 6.4,-17.5, 2.8,-19.5, 0,-19.5, -5.2,-17.7, -10,-14.9, -14.4,-11.5, -17.6,-7.5, -19.6,-4.1, -20.4,-2.1, -20.4,.7, -19.2,4.7, -16.8,8.7, -14,13.5, -9.2,17.5]],
  [4, [-4,18.9, 0,19.4, 4,19.8, 8.4,19.1, 12.2,16.5, 14,14, 16.2,9.5, 17,6.3, 17,3.1, 17,-3.3, 15.6,-8.5, 13.2,-12.1, 10,-14.3, 6.4,-16.9, 2.8,-18.9, 0,-18.9, -5.2,-17.1, -9.6,-14.1, -14,-10.9, -17.2,-6.9, -18.8,-4.1, -19.2,-1.7, -19.2,1.1, -18.4,3.5, -16.4,7.9, -13.6,12.7, -8.4,16.9]],
  [5, [-3.6,18.5, .4,19.1, 4,19.3, 8,18.5, 11.8,15.9, 13.6,13.3, 15.8,9.1, 16.6,5.9, 16.6,2.3, 16.4,-3.3, 15.2,-8.1, 12.8,-11.7, 9.6,-14.1, 6,-16.3, 2.8,-18.3, .4,-18.1, -4.8,-16.5, -9.2,-13.5, -13.6,-10.3, -16.8,-6.5, -18.2,-3.7, -18.6,-1.7, -18.5,1.1, -17.8,3.5, -15.8,7.5, -13.2,11.9, -8,16.3]],
  [8, [-3.2,17.9, .4,18.1, 4,18.4, 7.6,17.5, 11.2,15.1, 13,12.5, 15.2,8.3, 15.6,5.5, 15.6,2.3, 15.4,-3.3, 14.2,-7.7, 12,-11.3, 8.8,-13.5, 5.6,-15.3, 2.8,-16.9, .4,-16.5, -4.4,-15.5, -8.4,-12.5, -12.4,-9.7, -15.8,-5.7, -17.2,-3.3, -17.8,-.9, -17.6,1.9, -16.8,4.3, -15,7.5, -12.4,11.3, -7.6,15.5]],
  [9, [-2.4,17, .8,17.5, 4,17.6, 7.2,16.7, 10.8,14.3, 12.4,11.9, 14.6,7.5, 15,5.1, 15,2.3, 14.8,-2.9, 13.6,-7.3, 11.2,-10.9, 8.4,-12.9, 5.2,-14.9, 2.8,-16.1, .4,-15.5, -4,-14.7, -8,-11.9, -12,-9.1, -15.2,-5.3, -16.4,-2.9, -16.8,-.5, -16.8,1.9, -15.8,4.7, -14.2,7.5, -11.6,10.7, -7.2,14.7]],
  [10, [-2,16.6, 1.2,17.1, 4,17.1, 6.8,16.1, 10.4,13.7, 12,11.3, 14,6.7, 14.4,4.7, 14.4,2.3, 14,-2.9, 13,-6.9, 10.6,-10.5, 8,-12.3, 4.8,-14.5, 2.8,-15.1, .4,-14.5, -3.6,-13.9, -7.6,-11.3, -11.6,-8.5, -14.8,-4.9, -16,-1.7, -16.1,1.9, -15.2,4.7, -13.6,7.1, -11.2,9.9, -6.8,13.9]],
  [11, [-1.6,16, 2,16.5, 4.2,16.2, 6.8,15.3, 10,13.1, 11.2,10.7, 13.2,6.3, 13.3,2.3, 12.6,-2.5, 11.2,-3.3, 10.4,-5.1, 9.6,-7.3, 8.4,-9.7, 6,-12.5, 4,-14, 1.6,-13.9, .4,-12.5, -1.2,-11.1, -2.4,-12.3, -5.6,-12.1, -9.6,-9.7, -11.6,-7.9, -14,-5.1, -14.9,-1.7, -14.7,3.1, -13.2,6.3, -10.8,9.9, -6.4,13.1]],
  [12, [2.8,15.6, 4.8,15.3, 7.6,13.5, 10,10.7, 10,8.3, 8.4,7.1, 9,5.3, 10.8,6.6, 11.8,5.1, 12,-2.5, 10.2,-3.7, 9.4,-5.7, 9,-8.5, 6.8,-11.3, 3.6,-13.9, 1.8,-13.7, .6,-12.9, -1.2,-10.9, -6.4,-11.3, -11.2,-8.5, -14,-3.7, -14,-1.3, -13,.3, -13.3,5.5, -10.8,9.9, -6.4,11.9, -4.4,13.5, -2.8,13.9, -1.6,15.3]],
  [13, [-10,10.9, -7.2,11.9, -4.8,12.3, -4,13.5, -2.4,13.9, -1.8,12.7, -2.6,10.3, -2,8.5, .4,7.9, 2,8.6, 3.4,7.9, 4.6,3.5, 4.6,2.7, 1.6,2.7, -1.4,3.9, -2.8,1.5, -3.2,-.1, -1.8,-2.1, -1.6,-6.1, -3.2,-8.1, -4.4,-7.3, -7.6,-4.9, -9.6,-5.5, -11.6,-4.5, -12,-2.9, -10,-.1, -9.8,2.3, -11,5.1, -10.6,8.7]],
  [13, [3.6,13.7, 5.2,13.1, 6.6,10.3, 6,9.5, 5.4,10.3, 4.8,12.3]],
  [14, [-7.2,5.9, -5.6,6.6, -3,5.1, -3.2,3.1, -4,1.9, -4,-.9, -2.4,-3.7, -2.6,-5.3, -4.4,-4.3, -5.6,-2.1, -7.6,-.9, -7.8,1.5, -7.5,3.9]],
  [14, [-.6,5.1, 1.6,7, 2.6,6.9, 3.6,4.3, 2,3.5, .8,4.5]],
];

const modelDContours: Contour[] = [
  [0, [-4.6,21.9, -2.6,21.7, -1.4,20.5, .2,19.2, 4.6,18.5, 10.2,17.5, 12.6,15.9, 15.4,12.7, 17.2,8.7, 17.8,3.1, 19.2,-.9, 21.6,-2.7, 22.2,-6.9, 23,-9.1, 21.4,-12.1, 19,-14.1, 14.2,-15.9, 12.6,-16.9, 9.4,-17.7, 4.6,-21.3, 1.8,-22.9, -1.8,-25.3, -4.6,-25.3, -7.4,-23.7, -8,-20.1, -9.4,-17.9, -12.6,-14.5, -15.4,-12.9, -18.6,-9.7, -19.8,-5.3, -20,-3.3, -19.2,.3, -17.2,5.5, -15,9.1, -14.2,13.5, -12.2,17.5, -9.8,19.5, -7,21.5]],
  [1, [-8.2,17.1, -4.2,17.6, .6,17.3, 7,16.9, 11.4,14.7, 14.2,11.9, 16,7.9, 16.8,2.3, 17.2,-2.9, 18.2,-6.1, 19.8,-8.5, 19.6,-9.7, 16.6,-12.1, 12.6,-14.5, 8.6,-16.9, 3.8,-20.1, .6,-21.7, -2.6,-20.5, -7.4,-17.3, -11.4,-14.1, -15.4,-11.3, -17.4,-6.9, -18,-3.3, -17.6,.7, -15.8,5.1, -13.4,8.7, -11,13.1]],
  [2, [-7.8,16.1, -3.4,16.6, 1.4,16.5, 6.2,16.1, 10.6,13.9, 13.4,11.1, 15.6,7.1, 16.4,2.3, 16.6,-2.9, 16.2,-5.7, 15.8,-8.9, 12.6,-12.9, 7.8,-16.1, 3.8,-18.5, .6,-20.3, -2.6,-18.9, -7,-16.6, -11,-13.3, -15,-10.5, -16.8,-6.7, -17.4,-3.3, -17,-.1, -15.4,3.9, -13,7.5, -10.2,12.3]],
  [3, [-7,14.7, -2.6,15.3, 1.4,15.8, 5.8,15.3, 9.8,13.1, 12.8,10.3, 14.6,6.3, 15.4,2.3, 15.6,-2.9, 15.2,-5.7, 13.8,-9.3, 11.8,-12.1, 7,-15.3, 3.8,-17.5, .6,-19.1, -2.6,-17.9, -6.6,-15.7, -10.6,-12.5, -14.6,-9.7, -16.2,-6.5, -17,-3.3, -16.6,-.1, -15,3.1, -12.6,6.3, -9.8,11.5]],
  [4, [-2.6,15, 1.4,15.4, 5,15.2, 8.6,13.1, 12.2,9.9, 14,6.3, 15,3.5, 15.1,-2.9, 14.2,-7.3, 13.4,-9.5, 11,-12.3, 6.6,-15.3, 3,-17.5, -.2,-18.2, -2.6,-17.1, -6.2,-14.9, -10.2,-12.1, -14.2,-8.9, -15.4,-4.9, -15.6,-.9, -14.6,2.7, -11.8,6.3, -9.4,10.7, -6.2,13.5]],
  [5, [-2.2,14.6, 1.4,14.9, 4.8,14.8, 8.2,12.7, 11.8,9.5, 13.6,6.1, 14.6,3.5, 14.6,-2.9, 13.8,-6.9, 13,-8.9, 10.6,-11.9, 6.2,-14.7, 3,-16.9, -.2,-17.5, -2.6,-16.5, -5.8,-14.3, -9.8,-11.3, -13.8,-8.3, -15,-4.7, -15.3,-.9, -14.2,2.3, -11.4,6.1, -9,10.1, -5.8,13.1]],
  [8, [-1.8,13.7, 1.8,14.1, 4.4,13.9, 7.6,11.9, 11,8.7, 12.8,5.5, 13.6,3.1, 13.6,-2.5, 12.8,-6.1, 11.8,-8.5, 9.4,-11.3, 5.8,-13.7, 3,-15.7, -.2,-15.7, -2.6,-14.9, -5.4,-13.3, -9.4,-10.5, -13,-7.3, -14.2,-4.1, -14.6,-.9, -13.6,1.9, -11,5.1, -8.4,9.1, -5.2,12.1]],
  [9, [-1.4,13.1, 1.8,13.3, 4,13.2, 7.2,11.3, 10.4,8.1, 12.4,5.1, 13,2.7, 13,-2.1, 12.2,-5.7, 11,-8.1, 8.6,-10.9, 5.4,-13.1, 2.6,-14.9, .2,-14.7, -2.6,-13.9, -5,-12.5, -9,-9.7, -12.4,-6.7, -13.6,-3.9, -14,-.5, -13,1.9, -10.6,4.5, -7.8,8.3, -4.8,11.5]],
  [10, [-1.2,12.6, 1.8,12.7, 3.8,12.6, 6.8,10.7, 9.8,7.5, 11.8,4.7, 12.6,2.3, 12.4,-1.3, 11.6,-4.9, 10.4,-7.7, 8,-10.5, 5,-12.7, 3,-14.3, .6,-13.9, -2.6,-13.1, -4.6,-11.7, -8.6,-8.9, -11.8,-6.1, -13,-3.3, -13.4,-.1, -12.4,1.7, -10.2,3.9, -7.4,7.5, -4.4,10.6]],
  [11, [-.6,12.2, 1.8,12.3, 3.8,12.1, 6.4,10.3, 9.4,7.1, 11.4,4.3, 12.2,1.9, 12,-.5, 11,-3.7, 9.8,-6.9, 7.6,-10.1, 4.6,-12.5, 3,-13.5, .6,-13.1, -2.6,-12.3, -4.6,-11.1, -8.2,-8.3, -11.4,-4.9, -12.2,-2.9, -12.9,-.1, -12,1.9, -9.8,4.3, -7,7.1, -3.8,10.3]],
  [12, [-.2,11.7, 1.8,11.9, 3.8,11.5, 6,9.9, 9,6.7, 11,3.9, 11.8,1.9, 11.4,-.5, 10.2,-3.7, 9,-6.9, 7,-10.1, 4.2,-12.3, 3,-13.1, .6,-12.5, -2.6,-11.7, -5,-10.5, -7.8,-7.9, -10.6,-4.9, -11.6,-2.5, -12.2,.3, -11.4,1.9, -9.4,3.9, -6.6,6.7, -3.4,9.9]],
  [13, [-3.4,9.3, .2,10.9, 3.8,10.9, 6.6,9.5, 9,7.1, 11,3.9, 11,1.1, 10.2,.7, 9,3.9, 6.6,6.7, 5.4,6.3, 6.2,3.1, 3.8,3.1, 3.4,-.1, 1.8,-3.3, -1.8,-5.1, -2.6,-3.7, -5.4,-2.5, -6.8,-3.3, -5.8,-7.3, -7.8,-7.7, -9.8,-4.9, -11,-1.7, -11.6,1.1, -10.6,3.5, -8.6,6.3, -6.2,7.9]],
  [13, [-3,-9.7, -1.4,-7.5, 1.8,-8.1, 3.8,-7.3, 6.2,-8.5, 6.6,-10.5, 4.6,-12.3, 2.6,-12.5, -.2,-11.7]],
  [13, [8.6,-.3, 9.1,-2.1, 8.8,-3.3, 8,-3.1, 8.4,-1.3]],
  [12, [-7,-.5, -6,-.1, -5.8,-2.1, -6.6,-2.3]],
  [14, [-2.4,8.5, .2,10.3, 3.2,10.5, 3.5,7.9, .6,7.1, -1.6,7.2]],
  [14, [-8.8,4.3, -6.2,6.6, -5,6.1, -5.8,4.3, -8.2,1.3, -8.8,2.7]],
  [14, [-3.6,-.1, -2.2,3.1, -.8,3.7, 1.8,2.9, 2.2,.7, 1.8,-1.3, -1.2,-3.3, -3,-1.9]],
];

const PLOT_W = 630;
const PLOT_H = 567;
const PAD_LEFT = 100;
const PAD_RIGHT = 30;
const PAD_TOP = 25;
const PAD_BOTTOM = 60;
const BAR_H = 40;
const ROW_2 = 975;

const panels = [
  { caption: 'Reference condition', left: 159, top: 179.4, titleTop: 10, contours: referenceContours, edges: barEdgesA, ticks: barTicksA },
  { caption: 'Model A', left: 1009.5, top: 179.4, titleTop: 10, contours: modelAContours, edges: barEdgesB, ticks: barTicksB },
  { caption: 'Model B', left: 1860.5, top: 179.4, titleTop: 10, contours: modelBContours, edges: barEdgesC, ticks: barTicksC },
  { caption: 'Model C', left: 584, top: 179.4 + ROW_2, titleTop: 980, contours: modelCContours, edges: barEdgesB, ticks: barTicksB },
  { caption: 'Model D', left: 1434.5, top: 179.4 + ROW_2, titleTop: 980, contours: modelDContours, edges: barEdgesC, ticks: barTicksC },
];

const toPoints = (flat: number[]) => {
  const pts: { x: number; y: number }[] = [];
  for (let i = 0; i < flat.length; i += 2) pts.push({ x: flat[i], y: flat[i + 1] });
  pts.push(pts[0]);
  return pts;
};

const signed = (v: number) => (v < 0 ? `\u2212${-v}` : `${v}`);

// inward major/minor ticks and the L shaped frame
const frame = {
  id: 'frame',
  afterDraw(chart: any) {
    const { ctx, chartArea: a, scales } = chart;
    ctx.save();
    ctx.strokeStyle = '#111';
    ctx.lineWidth = 3;
    for (const t of scales.x.ticks) {
      const px = scales.x.getPixelForValue(t.value);
      ctx.beginPath();
      ctx.moveTo(px, a.bottom);
      ctx.lineTo(px, a.bottom - (t.value % 10 === 0 ? 13 : 7));
      ctx.stroke();
    }
    for (const t of scales.y.ticks) {
      const py = scales.y.getPixelForValue(t.value);
      ctx.beginPath();
      ctx.moveTo(a.left, py);
      ctx.lineTo(a.left + (t.value % 10 === 0 ? 13 : 7), py);
      ctx.stroke();
    }
    ctx.lineWidth = 3.5;
    ctx.beginPath();
    ctx.moveTo(a.left, a.top - 1.5);
    ctx.lineTo(a.left, a.bottom);
    ctx.lineTo(a.right + 1.5, a.bottom);
    ctx.stroke();
    ctx.restore();
  },
};

// keep the plot box fixed: no extra room for labels that overhang the axis ends
const fixBox = (s: any, key: 'width' | 'height', size: number) => {
  s[key] = size;
  s.paddingLeft = 0;
  s.paddingRight = 0;
  s.paddingTop = 0;
  s.paddingBottom = 0;
};

const ContourPlot: React.FC<{ contours: Contour[] }> = ({ contours }) => {
  const ref = useRef<HTMLCanvasElement | null>(null);

  useEffect(() => {
    if (!ref.current) return;
    const axis = (padding: number, fit: (s: any) => void) => ({
      type: 'linear' as const,
      min: -30,
      max: 30,
      afterFit: fit,
      grid: { display: false, drawTicks: false },
      border: { display: false },
      ticks: {
        stepSize: 5,
        autoSkip: false,
        maxRotation: 0,
        padding,
        color: '#111',
        font: { family: SERIF, size: 44 },
        callback: (v: any) => (Number(v) % 10 === 0 ? signed(Number(v)) : ''),
      },
    });
    const chart = new Chart(ref.current, {
      type: 'scatter',
      data: {
        // the filler paints the last dataset first, so the outer contour goes last
        datasets: contours
          .map(([level, flat]) => ({
            data: toPoints(flat),
            showLine: true,
            fill: 'shape',
            tension: 0.3,
            borderWidth: 0,
            pointRadius: 0,
            backgroundColor: levelColors[level],
          }))
          .reverse(),
      },
      options: {
        animation: false,
        responsive: false,
        devicePixelRatio: 1,
        events: [],
        layout: { padding: { top: PAD_TOP, right: PAD_RIGHT, left: 0, bottom: 0 } },
        plugins: { legend: { display: false }, tooltip: { enabled: false } },
        scales: {
          x: axis(11, (s) => fixBox(s, 'height', PAD_BOTTOM)),
          y: axis(13, (s) => fixBox(s, 'width', PAD_LEFT)),
        },
      },
      plugins: [frame],
    } as any);
    return () => chart.destroy();
  }, [contours]);

  return <canvas ref={ref} width={PAD_LEFT + PLOT_W + PAD_RIGHT} height={PAD_TOP + PLOT_H + PAD_BOTTOM} />;
};

const ColorBar: React.FC<{ edges: number[]; ticks: number[] }> = ({ edges, ticks }) => {
  const ref = useRef<HTMLCanvasElement | null>(null);

  useEffect(() => {
    if (!ref.current) return;
    const chart = new Chart(ref.current, {
      type: 'bar',
      data: {
        labels: ['level'],
        datasets: barColors.map((color, i) => ({
          data: [[edges[i], edges[i + 1]]],
          backgroundColor: color,
          borderWidth: 0,
          grouped: false,
          barPercentage: 1,
          categoryPercentage: 1,
        })),
      },
      options: {
        animation: false,
        responsive: false,
        devicePixelRatio: 1,
        events: [],
        indexAxis: 'y',
        layout: { padding: { left: PAD_RIGHT, right: PAD_RIGHT, top: 0, bottom: 0 } },
        plugins: { legend: { display: false }, tooltip: { enabled: false } },
        scales: {
          y: { display: false },
          x: {
            type: 'linear',
            min: edges[0],
            max: edges[edges.length - 1],
            afterFit: (s: any) => fixBox(s, 'height', PAD_BOTTOM),
            afterBuildTicks: (s: any) => { s.ticks = ticks.map((value) => ({ value })); },
            grid: { display: false, drawTicks: false },
            border: { display: false },
            ticks: {
              autoSkip: false,
              maxRotation: 0,
              padding: 8,
              color: '#111',
              font: { family: SERIF, size: 44 },
              callback: (v: any) => `${v}`,
            },
          },
        },
      },
    } as any);
    return () => chart.destroy();
  }, [edges, ticks]);

  return <canvas ref={ref} width={PLOT_W + 2 * PAD_RIGHT} height={BAR_H + PAD_BOTTOM} />;
};

const textStyle: React.CSSProperties = {
  position: 'absolute',
  fontFamily: SERIF,
  fontSize: 44,
  lineHeight: 1,
  color: '#111',
  whiteSpace: 'nowrap',
};

const supStyle: React.CSSProperties = { fontSize: 27, lineHeight: 0, verticalAlign: 17 };

const App: React.FC = () => (
  <div style={{ position: 'absolute', left: 0, top: 0, width: 2520, height: 1918, background: '#fff', overflow: 'hidden' }}>
    {panels.map((p) => {
      const barTop = p.top - 115.4;
      return (
        <React.Fragment key={p.caption}>
          <div style={{ position: 'absolute', left: p.left - PAD_LEFT, top: p.top - PAD_TOP }}>
            <ContourPlot contours={p.contours} />
          </div>
          <div style={{ position: 'absolute', left: p.left - PAD_RIGHT, top: barTop }}>
            <ColorBar edges={p.edges} ticks={p.ticks} />
          </div>
          <div style={{ ...textStyle, left: p.left + 3, top: p.titleTop }}>
            <i>{'\u03c9'}</i>/10<sup style={supStyle}>{'\u22123'}</sup> mm<sup style={supStyle}>{'\u22121'}</sup>
          </div>
          <div style={{ ...textStyle, left: p.left + PLOT_W / 2, top: p.top + 645.6, transform: 'translateX(-50%)' }}>
            Radial distance <i>X</i>/mm
          </div>
          <div style={{ ...textStyle, left: p.left + PLOT_W / 2, top: p.top + 713.6, transform: 'translateX(-50%)' }}>
            {p.caption}
          </div>
          <div
            style={{
              ...textStyle,
              left: p.left - 126,
              top: p.top + PLOT_H / 2,
              transform: 'translate(-50%, -50%) rotate(-90deg)',
            }}
          >
            Radial distance <i>Y</i>/mm
          </div>
        </React.Fragment>
      );
    })}
  </div>
);

export default App;
